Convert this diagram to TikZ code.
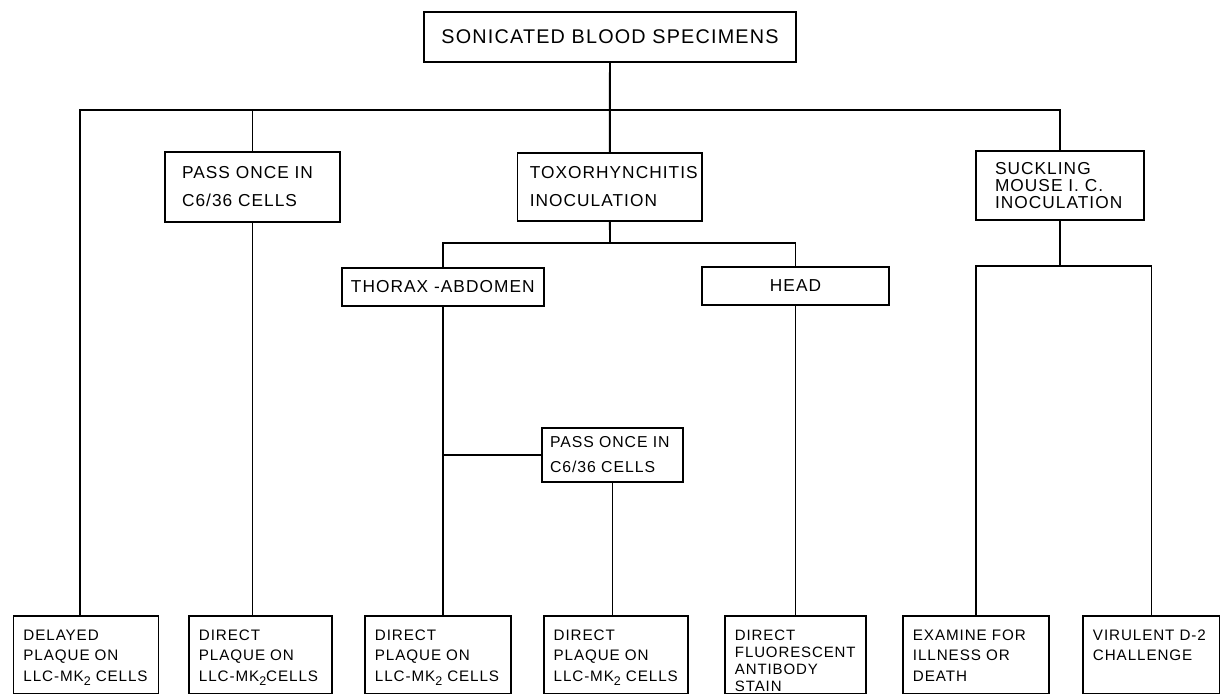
\documentclass[tikz,border=0pt]{standalone}
\usepackage{fontspec}
\setmainfont{Liberation Sans}[LetterSpace=6]
\newcommand{\mksub}[1]{\raisebox{-0.28em}{\fontsize{12.5}{12.5}\selectfont #1}}

\begin{document}
\begin{tikzpicture}[x=1pt,y=-1pt]
    \def\lw{1.9pt}
    \tikzstyle{box}=[draw, rectangle, line width=\lw, inner sep=0pt, align=left]
    \tikzstyle{mid}=[box, font=\fontsize{17.3}{28}\selectfont]
    \tikzstyle{leaf}=[box, anchor=north west, inner xsep=10pt, inner ysep=13pt, text height=11.5pt, text depth=40pt, font=\fontsize{15.2}{20.5}\selectfont]
    \tikzstyle{line}=[line width=\lw]

    \useasboundingbox (0,0) rectangle (1220,695);

    % nodes
    \path (610,37) node (blood) [box, align=center, minimum width=372pt, minimum height=50pt, font=\fontsize{19.8}{24}\selectfont] {SONICATED BLOOD SPECIMENS};

    \path (252.5,187) node (pass1) [mid, minimum width=175pt, minimum height=70pt, text width=141pt] {PASS ONCE IN\\C6/36 CELLS};
    \path (609.75,187) node (toxo) [mid, minimum width=184.5pt, minimum height=68pt, text width=160pt] {TOXORHYNCHITIS\\INOCULATION};
    \path (1060,185.5) node (suck) [mid, minimum width=168pt, minimum height=69pt, text width=130pt, font=\fontsize{17.3}{17}\selectfont] {SUCKLING\\MOUSE I. C.\\INOCULATION};

    \path (442.8,287) node (thorax) [mid, align=center, minimum width=201.6pt, minimum height=38pt] {THORAX -ABDOMEN};
    \path (795.5,286) node (head) [mid, align=center, minimum width=187pt, minimum height=38pt] {HEAD};

    \path (612.5,455) node (pass2) [box, minimum width=141pt, minimum height=54pt, text width=125pt, font=\fontsize{15.8}{25}\selectfont] {PASS ONCE IN\\C6/36 CELLS};

    \path (12.5,615) node (r1) [leaf, text width=125pt] {DELAYED\\PLAQUE ON\\\mbox{LLC-MK\mksub{2} CELLS}};
    \path (188,615) node (r2) [leaf, text width=123pt] {DIRECT\\PLAQUE ON\\\mbox{LLC-MK\mksub{2}CELLS}};
    \path (364,615) node (r3) [leaf, text width=126pt] {DIRECT\\PLAQUE ON\\\mbox{LLC-MK\mksub{2} CELLS}};
    \path (542.7,615) node (r4) [leaf, text width=124pt] {DIRECT\\PLAQUE ON\\\mbox{LLC-MK\mksub{2} CELLS}};
    \path (724,615) node (r5) [leaf, text width=121pt, font=\fontsize{15}{17}\selectfont] {DIRECT\\FLUORESCENT\\ANTIBODY\\STAIN};
    \path (902,615) node (r6) [leaf, text width=126pt] {EXAMINE FOR\\ILLNESS OR\\DEATH};
    \path (1082,615) node (r7) [leaf, text width=117pt] {VIRULENT D-2\\CHALLENGE};

    % lines
    \coordinate (busL) at (80,110);
    \coordinate (tsub) at (610,243);
    \coordinate (ssub) at (1060,266);

    \draw[line] (blood) -- (toxo);
    \draw[line] (busL |- r1.north) -- (busL) -- (busL -| suck) -- (suck);
    \draw[line] (busL -| pass1) -- (pass1);
    \draw[line] (pass1) -- (pass1 |- r2.north);

    \draw[line] (toxo) -- (tsub);
    \draw[line] (thorax) -- (thorax |- tsub) -- (head |- tsub) -- (head);
    \draw[line] (thorax) -- (thorax |- r3.north);
    \draw[line] (thorax |- pass2) -- (pass2);
    \draw[line] (pass2) -- (pass2 |- r4.north);
    \draw[line] (head) -- (head |- r5.north);

    \draw[line] (suck) -- (ssub);
    \draw[line] (r6.north) -- (r6.north |- ssub) -- (r7.north |- ssub) -- (r7.north);
\end{tikzpicture}
\end{document}
